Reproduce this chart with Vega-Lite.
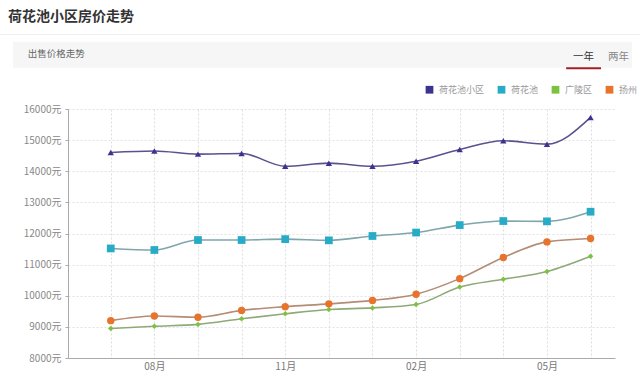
{
  "$schema": "https://vega.github.io/schema/vega-lite/v6.json",
  "width": 547,
  "height": 249,
  "autosize": "none",
  "padding": {"left": 68, "top": 109, "right": 25, "bottom": 30},
  "background": "white",
  "config": {
    "font": "Noto Sans CJK SC",
    "view": {"stroke": null},
    "legend": {
      "orient": "none",
      "legendX": 357,
      "legendY": -24,
      "direction": "horizontal",
      "symbolType": "square",
      "symbolSize": 60,
      "symbolStrokeWidth": 0,
      "labelFontSize": 9,
      "labelColor": "#999999",
      "labelOffset": 5,
      "columnPadding": 12
    },
    "axisX": {
      "labelFontSize": 10,
      "labelColor": "#777777",
      "labelPadding": 3,
      "labelOverlap": false,
      "ticks": false,
      "domainColor": "#aaaaaa",
      "grid": true,
      "gridColor": "#dddddd",
      "gridDash": [2, 2],
      "title": null
    },
    "axisY": {
      "labelFontSize": 10,
      "labelColor": "#888888",
      "labelPadding": 4,
      "labelOverlap": false,
      "tickSize": 3,
      "tickColor": "#aaaaaa",
      "domainColor": "#aaaaaa",
      "grid": true,
      "gridColor": "#e2e2e2",
      "gridDash": [2, 2],
      "title": null
    }
  },
  "title": {
    "text": "荷花池小区房价走势",
    "anchor": "start",
    "frame": "group",
    "fontSize": 14,
    "fontWeight": "bold",
    "color": "#333333",
    "dx": -60,
    "offset": 10
  },
  "data": {
    "values": [
      {"idx": 0, "month": "07月", "series": "荷花池小区", "price": 14600},
      {"idx": 1, "month": "08月", "series": "荷花池小区", "price": 14650},
      {"idx": 2, "month": "09月", "series": "荷花池小区", "price": 14550},
      {"idx": 3, "month": "10月", "series": "荷花池小区", "price": 14570},
      {"idx": 4, "month": "11月", "series": "荷花池小区", "price": 14160},
      {"idx": 5, "month": "12月", "series": "荷花池小区", "price": 14260},
      {"idx": 6, "month": "01月", "series": "荷花池小区", "price": 14160},
      {"idx": 7, "month": "02月", "series": "荷花池小区", "price": 14320},
      {"idx": 8, "month": "03月", "series": "荷花池小区", "price": 14700},
      {"idx": 9, "month": "04月", "series": "荷花池小区", "price": 14980},
      {"idx": 10, "month": "05月", "series": "荷花池小区", "price": 14870},
      {"idx": 11, "month": "06月", "series": "荷花池小区", "price": 15730},
      {"idx": 0, "month": "07月", "series": "荷花池", "price": 11520},
      {"idx": 1, "month": "08月", "series": "荷花池", "price": 11470},
      {"idx": 2, "month": "09月", "series": "荷花池", "price": 11790},
      {"idx": 3, "month": "10月", "series": "荷花池", "price": 11790},
      {"idx": 4, "month": "11月", "series": "荷花池", "price": 11820},
      {"idx": 5, "month": "12月", "series": "荷花池", "price": 11780},
      {"idx": 6, "month": "01月", "series": "荷花池", "price": 11920},
      {"idx": 7, "month": "02月", "series": "荷花池", "price": 12030},
      {"idx": 8, "month": "03月", "series": "荷花池", "price": 12270},
      {"idx": 9, "month": "04月", "series": "荷花池", "price": 12400},
      {"idx": 10, "month": "05月", "series": "荷花池", "price": 12390},
      {"idx": 11, "month": "06月", "series": "荷花池", "price": 12700},
      {"idx": 0, "month": "07月", "series": "广陵区", "price": 8950},
      {"idx": 1, "month": "08月", "series": "广陵区", "price": 9020},
      {"idx": 2, "month": "09月", "series": "广陵区", "price": 9080},
      {"idx": 3, "month": "10月", "series": "广陵区", "price": 9260},
      {"idx": 4, "month": "11月", "series": "广陵区", "price": 9420},
      {"idx": 5, "month": "12月", "series": "广陵区", "price": 9560},
      {"idx": 6, "month": "01月", "series": "广陵区", "price": 9610},
      {"idx": 7, "month": "02月", "series": "广陵区", "price": 9720},
      {"idx": 8, "month": "03月", "series": "广陵区", "price": 10280},
      {"idx": 9, "month": "04月", "series": "广陵区", "price": 10530},
      {"idx": 10, "month": "05月", "series": "广陵区", "price": 10780},
      {"idx": 11, "month": "06月", "series": "广陵区", "price": 11270},
      {"idx": 0, "month": "07月", "series": "扬州", "price": 9200},
      {"idx": 1, "month": "08月", "series": "扬州", "price": 9350},
      {"idx": 2, "month": "09月", "series": "扬州", "price": 9310},
      {"idx": 3, "month": "10月", "series": "扬州", "price": 9530},
      {"idx": 4, "month": "11月", "series": "扬州", "price": 9650},
      {"idx": 5, "month": "12月", "series": "扬州", "price": 9740},
      {"idx": 6, "month": "01月", "series": "扬州", "price": 9850},
      {"idx": 7, "month": "02月", "series": "扬州", "price": 10050},
      {"idx": 8, "month": "03月", "series": "扬州", "price": 10550},
      {"idx": 9, "month": "04月", "series": "扬州", "price": 11230},
      {"idx": 10, "month": "05月", "series": "扬州", "price": 11730},
      {"idx": 11, "month": "06月", "series": "扬州", "price": 11840}
    ]
  },
  "layer": [
    {
      "mark": {"type": "line", "interpolate": "monotone", "strokeWidth": 1.6},
      "encoding": {
        "x": {
          "field": "idx",
          "type": "quantitative",
          "scale": {"domain": [-0.98, 11.56], "nice": false, "zero": false},
          "axis": {
            "values": [0, 1, 2, 3, 4, 5, 6, 7, 8, 9, 10, 11],
            "tickCount": 12,
            "labelExpr": "datum.value == 1 ? '08月' : datum.value == 4 ? '11月' : datum.value == 7 ? '02月' : datum.value == 10 ? '05月' : ''"
          }
        },
        "y": {
          "field": "price",
          "type": "quantitative",
          "scale": {"domain": [8000, 16000], "nice": false, "zero": false},
          "axis": {
            "values": [8000, 9000, 10000, 11000, 12000, 13000, 14000, 15000, 16000],
            "tickCount": 9,
            "labelOverlap": false,
            "labelExpr": "datum.value + '元'"
          }
        },
        "stroke": {
          "field": "series",
          "type": "nominal",
          "scale": {"domain": ["荷花池小区", "荷花池", "广陵区", "扬州"], "range": ["#5a528f", "#7ea6ab", "#8fa979", "#b58c74"]},
          "legend": {"title": null, "orient": "none", "legendX": 357, "legendY": -24, "direction": "horizontal", "symbolType": "square", "symbolStrokeWidth": 0}
        },
        "detail": {"field": "series"}
      }
    },
    {
      "transform": [{"filter": "datum.series == '荷花池小区'"}],
      "mark": {"type": "point", "filled": true, "opacity": 1, "shape": "triangle-up", "size": 40},
      "encoding": {
        "x": {"field": "idx", "type": "quantitative"},
        "y": {"field": "price", "type": "quantitative"},
        "fill": {
          "field": "series",
          "type": "nominal",
          "scale": {"domain": ["荷花池小区", "荷花池", "广陵区", "扬州"], "range": ["#3c3391", "#27abc6", "#7cc242", "#e8732c"]},
          "legend": {"title": null, "orient": "none", "legendX": 357, "legendY": -24, "direction": "horizontal", "symbolType": "square", "symbolStrokeWidth": 0}
        }
      }
    },
    {
      "transform": [{"filter": "datum.series == '荷花池'"}],
      "mark": {"type": "point", "filled": true, "opacity": 1, "shape": "square", "size": 60},
      "encoding": {
        "x": {"field": "idx", "type": "quantitative"},
        "y": {"field": "price", "type": "quantitative"},
        "fill": {
          "field": "series",
          "type": "nominal",
          "legend": {"title": null, "orient": "none", "legendX": 357, "legendY": -24, "direction": "horizontal", "symbolType": "square", "symbolStrokeWidth": 0}
        }
      }
    },
    {
      "transform": [{"filter": "datum.series == '广陵区'"}],
      "mark": {"type": "point", "filled": true, "opacity": 1, "shape": "diamond", "size": 30},
      "encoding": {
        "x": {"field": "idx", "type": "quantitative"},
        "y": {"field": "price", "type": "quantitative"},
        "fill": {
          "field": "series",
          "type": "nominal",
          "legend": {"title": null, "orient": "none", "legendX": 357, "legendY": -24, "direction": "horizontal", "symbolType": "square", "symbolStrokeWidth": 0}
        }
      }
    },
    {
      "transform": [{"filter": "datum.series == '扬州'"}],
      "mark": {"type": "point", "filled": true, "opacity": 1, "shape": "circle", "size": 55},
      "encoding": {
        "x": {"field": "idx", "type": "quantitative"},
        "y": {"field": "price", "type": "quantitative"},
        "fill": {
          "field": "series",
          "type": "nominal",
          "legend": {"title": null, "orient": "none", "legendX": 357, "legendY": -24, "direction": "horizontal", "symbolType": "square", "symbolStrokeWidth": 0}
        }
      }
    },
    {
      "data": {"values": [{}]},
      "mark": {"type": "rule", "color": "#eeeeee", "strokeWidth": 1},
      "encoding": {
        "x": {"datum": -2.54, "type": "quantitative"},
        "x2": {"datum": 12.13},
        "y": {"datum": 18394, "type": "quantitative"}
      }
    },
    {
      "data": {"values": [{}]},
      "mark": {"type": "rect", "color": "#f6f6f6"},
      "encoding": {
        "x": {"datum": -2.24, "type": "quantitative"},
        "x2": {"datum": 11.95},
        "y": {"datum": 18162, "type": "quantitative"},
        "y2": {"datum": 17327}
      }
    },
    {
      "data": {"values": [{"label": "出售价格走势"}]},
      "mark": {"type": "text", "align": "left", "baseline": "middle", "fontSize": 9.5, "color": "#666666"},
      "encoding": {
        "x": {"datum": -1.9, "type": "quantitative"},
        "y": {"datum": 17757, "type": "quantitative"},
        "text": {"field": "label"}
      }
    },
    {
      "data": {"values": [{"label": "一年"}]},
      "mark": {"type": "text", "align": "center", "baseline": "middle", "fontSize": 10.5, "color": "#333333"},
      "encoding": {
        "x": {"datum": 10.84, "type": "quantitative"},
        "y": {"datum": 17680, "type": "quantitative"},
        "text": {"field": "label"}
      }
    },
    {
      "data": {"values": [{"label": "两年"}]},
      "mark": {"type": "text", "align": "center", "baseline": "middle", "fontSize": 10.5, "color": "#888888"},
      "encoding": {
        "x": {"datum": 11.64, "type": "quantitative"},
        "y": {"datum": 17680, "type": "quantitative"},
        "text": {"field": "label"}
      }
    },
    {
      "data": {"values": [{}]},
      "mark": {"type": "rule", "color": "#a31f24", "strokeWidth": 2},
      "encoding": {
        "x": {"datum": 10.44, "type": "quantitative"},
        "x2": {"datum": 11.24},
        "y": {"datum": 17308, "type": "quantitative"}
      }
    }
  ]
}
